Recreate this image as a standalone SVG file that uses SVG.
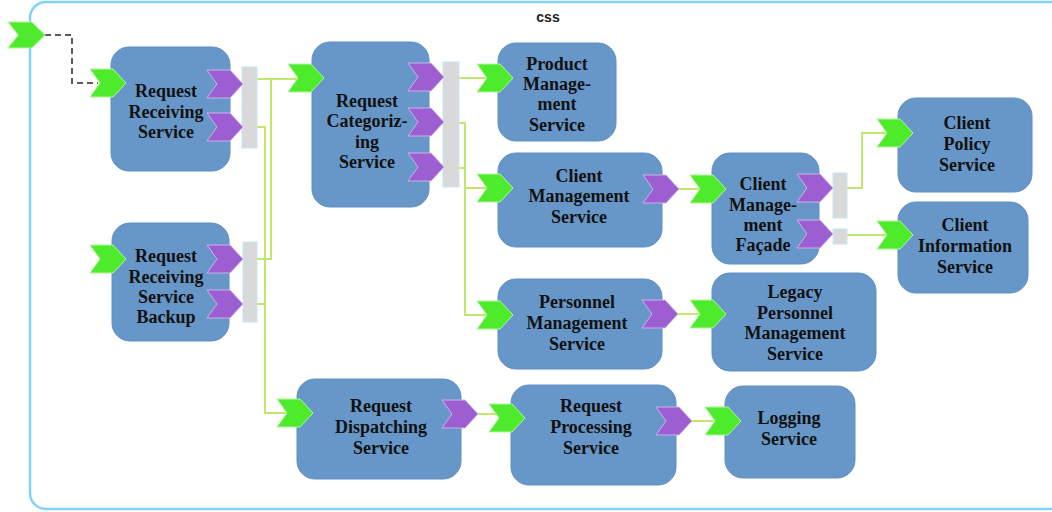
<svg xmlns="http://www.w3.org/2000/svg" xmlns:xlink="http://www.w3.org/1999/xlink" width="1052" height="512" viewBox="0 0 1052 512">
<style>
.frame{fill:#fff;stroke:#7fd3f4;stroke-width:2.5}
.title{font-family:"Liberation Sans",Arial,sans-serif;font-weight:bold;font-size:14px;fill:#222;text-anchor:middle}
.box{fill:#6797c9;stroke:#5e8fc3;stroke-width:1}
.lbl{font-family:"Liberation Serif","Times New Roman",serif;font-weight:bold;font-size:18px;fill:#111;text-anchor:middle}
.gin{fill:#4eea2c;stroke:#b2f59c;stroke-width:1}
.pout{fill:#9c5ed0;stroke:#cdb0ea;stroke-width:1}
.bar{fill:#d9d9d9;stroke:#c4e6f6;stroke-width:1}
.wire{fill:none;stroke:#bfe86c;stroke-width:2}
.stub{fill:none;stroke:#f2ee3c;stroke-width:2}
.dash{fill:none;stroke:#555b60;stroke-width:2;stroke-dasharray:6 4}
</style>
<defs>
<path id="chev" d="M0,0 L23,0 L36,14 L23,28 L0,28 L10,14 Z"/>
</defs>
<rect class="frame" x="30" y="2" width="1040" height="507" rx="16"/>
<text class="title" x="548" y="22">css</text>

<g id="connectors">
<path class="dash" d="M45,35 H72 V83 H98"/>
<path class="wire" d="M256,79 H298 M271,79 V259 H256"/>
<path class="wire" d="M256,127 H265 V413 H287 M256,304 H265"/>
<path class="wire" d="M458,78 H487 M458,123 H465 V315 H487 M458,168 H465 M465,188 H487"/>
<path class="wire" d="M679,189 H700"/>
<path class="wire" d="M846,188 H862 V133 H887 M846,235 H887"/>
<path class="wire" d="M678,314 H700"/>
<path class="wire" d="M478,414 H499"/>
<path class="wire" d="M692,421 H715"/>
<path class="stub" d="M243,79 H256 M243,127 H256 M244,259 H256 M244,304 H256 M444,78 H458 M444,123 H458 M444,168 H458 M834,188 H846 M834,235 H846"/>
</g>

<g id="external-input">
<use xlink:href="#chev" href="#chev" class="gin" transform="translate(8,22) scale(1.03,0.93)"/>
</g>

<g id="request-receiving-service">
<rect class="box" x="111" y="47" width="119" height="124" rx="18"/>
<rect class="bar" x="242" y="67" width="15" height="81"/>
<use href="#chev" class="gin" x="90" y="69"/>
<use href="#chev" class="pout" x="207" y="70"/>
<use href="#chev" class="pout" x="207" y="113"/>
<text class="lbl" x="166"><tspan x="166" y="97">Request</tspan><tspan x="166" y="118">Receiving</tspan><tspan x="166" y="138">Service</tspan></text>
</g>

<g id="request-categorizing-service">
<rect class="box" x="312" y="42" width="117" height="165" rx="18"/>
<rect class="bar" x="443" y="62" width="16" height="125"/>
<use href="#chev" class="gin" x="288" y="64"/>
<use href="#chev" class="pout" x="408" y="63"/>
<use href="#chev" class="pout" x="408" y="108"/>
<use href="#chev" class="pout" x="408" y="153"/>
<text class="lbl"><tspan x="367" y="107">Request</tspan><tspan x="367" y="127">Categoriz-</tspan><tspan x="367" y="148">ing</tspan><tspan x="367" y="168">Service</tspan></text>
</g>

<g id="product-management-service">
<rect class="box" x="498" y="43" width="118" height="98" rx="18"/>
<use href="#chev" class="gin" x="477" y="64"/>
<text class="lbl"><tspan x="557" y="70">Product</tspan><tspan x="557" y="90">Manage-</tspan><tspan x="557" y="110">ment</tspan><tspan x="557" y="131">Service</tspan></text>
</g>

<g id="client-management-service">
<rect class="box" x="498" y="153" width="164" height="94" rx="18"/>
<use href="#chev" class="gin" x="477" y="174"/>
<use href="#chev" class="pout" x="643" y="175"/>
<text class="lbl"><tspan x="579" y="182">Client</tspan><tspan x="579" y="202">Management</tspan><tspan x="579" y="223">Service</tspan></text>
</g>

<g id="client-management-facade">
<rect class="box" x="712" y="153" width="107" height="111" rx="18"/>
<rect class="bar" x="833" y="173" width="14" height="45"/>
<rect class="bar" x="833" y="229" width="14" height="15"/>
<use href="#chev" class="gin" x="690" y="175"/>
<use href="#chev" class="pout" x="797" y="174"/>
<use href="#chev" class="pout" x="797" y="220"/>
<text class="lbl"><tspan x="763" y="190">Client</tspan><tspan x="763" y="211">Manage-</tspan><tspan x="763" y="231">ment</tspan><tspan x="763" y="251">Façade</tspan></text>
</g>

<g id="client-policy-service">
<rect class="box" x="898" y="98" width="134" height="94" rx="18"/>
<use href="#chev" class="gin" x="877" y="119"/>
<text class="lbl"><tspan x="967" y="129">Client</tspan><tspan x="967" y="150">Policy</tspan><tspan x="967" y="171">Service</tspan></text>
</g>

<g id="client-information-service">
<rect class="box" x="898" y="202" width="130" height="91" rx="18"/>
<use href="#chev" class="gin" x="877" y="221"/>
<text class="lbl"><tspan x="965" y="231">Client</tspan><tspan x="965" y="252">Information</tspan><tspan x="965" y="273">Service</tspan></text>
</g>

<g id="request-receiving-service-backup">
<rect class="box" x="112" y="223" width="117" height="118" rx="18"/>
<rect class="bar" x="243" y="242" width="14" height="80"/>
<use href="#chev" class="gin" x="90" y="245"/>
<use href="#chev" class="pout" x="207" y="245"/>
<use href="#chev" class="pout" x="207" y="290"/>
<text class="lbl"><tspan x="166" y="262">Request</tspan><tspan x="166" y="283">Receiving</tspan><tspan x="166" y="303">Service</tspan><tspan x="166" y="323">Backup</tspan></text>
</g>

<g id="personnel-management-service">
<rect class="box" x="498" y="279" width="164" height="90" rx="18"/>
<use href="#chev" class="gin" x="477" y="301"/>
<use href="#chev" class="pout" x="642" y="300"/>
<text class="lbl"><tspan x="577" y="308">Personnel</tspan><tspan x="577" y="329">Management</tspan><tspan x="577" y="350">Service</tspan></text>
</g>

<g id="legacy-personnel-management-service">
<rect class="box" x="712" y="273" width="164" height="98" rx="18"/>
<use href="#chev" class="gin" x="690" y="300"/>
<text class="lbl"><tspan x="795" y="298">Legacy</tspan><tspan x="795" y="319">Personnel</tspan><tspan x="795" y="339">Management</tspan><tspan x="795" y="360">Service</tspan></text>
</g>

<g id="request-dispatching-service">
<rect class="box" x="297" y="379" width="164" height="100" rx="18"/>
<use href="#chev" class="gin" x="277" y="399"/>
<use href="#chev" class="pout" x="442" y="400"/>
<text class="lbl"><tspan x="381" y="412">Request</tspan><tspan x="381" y="433">Dispatching</tspan><tspan x="381" y="454">Service</tspan></text>
</g>

<g id="request-processing-service">
<rect class="box" x="511" y="385" width="165" height="100" rx="18"/>
<use href="#chev" class="gin" x="489" y="404"/>
<use href="#chev" class="pout" x="656" y="407"/>
<text class="lbl"><tspan x="591" y="412">Request</tspan><tspan x="591" y="433">Processing</tspan><tspan x="591" y="454">Service</tspan></text>
</g>

<g id="logging-service">
<rect class="box" x="725" y="386" width="130" height="92" rx="18"/>
<use href="#chev" class="gin" x="705" y="407"/>
<text class="lbl"><tspan x="789" y="424">Logging</tspan><tspan x="789" y="445">Service</tspan></text>
</g>
</svg>
